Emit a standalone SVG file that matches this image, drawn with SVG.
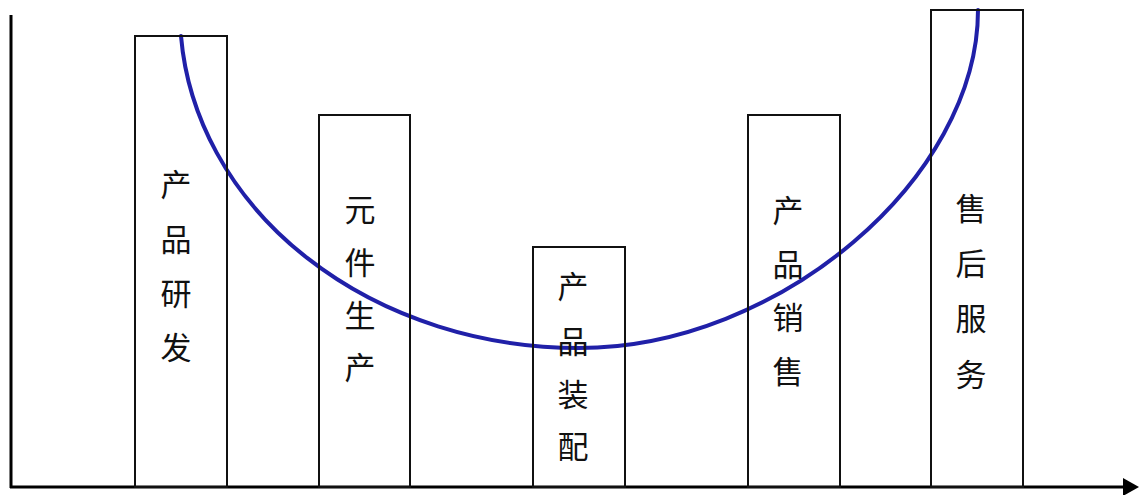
<svg xmlns="http://www.w3.org/2000/svg" width="1139" height="495" viewBox="0 0 1139 495">
<style>
.bar{fill:none;stroke:#111;stroke-width:2}
.lbl{font-family:"Noto Sans CJK SC","Noto Sans",sans-serif;font-size:31px;fill:#111;text-anchor:middle;dominant-baseline:central}
.axis{stroke:#000;stroke-width:3;fill:none}
.curve{fill:none;stroke:#2020a8;stroke-width:4;stroke-linecap:round}
</style>
<rect x="0" y="0" width="1139" height="495" fill="#fff"/>
<g id="connectors">
<line class="axis" x1="11" y1="15" x2="11" y2="488"/>
<line class="axis" x1="10" y1="487" x2="1126" y2="487"/>
<polygon points="1123,478 1139,487 1123,496" fill="#000"/>
<path class="curve" d="M181,36 A399,336 0 0,0 579,348 C779,348 978,178 978,10"/>
</g>
<g id="node1">
<rect class="bar" x="135" y="36" width="92" height="451"/>
<text class="lbl"><tspan x="176" y="182">产</tspan><tspan x="176" y="237">品</tspan><tspan x="176" y="291">研</tspan><tspan x="176" y="345">发</tspan></text>
</g>
<g id="node2">
<rect class="bar" x="319" y="115" width="91" height="372"/>
<text class="lbl"><tspan x="360" y="207">元</tspan><tspan x="360" y="260">件</tspan><tspan x="360" y="313">生</tspan><tspan x="360" y="365">产</tspan></text>
</g>
<g id="node3">
<rect class="bar" x="533" y="247" width="92" height="240"/>
<text class="lbl"><tspan x="573" y="284">产</tspan><tspan x="573" y="339">品</tspan><tspan x="573" y="392">装</tspan><tspan x="573" y="444">配</tspan></text>
</g>
<g id="node4">
<rect class="bar" x="748" y="115" width="92" height="372"/>
<text class="lbl"><tspan x="788" y="208">产</tspan><tspan x="788" y="262">品</tspan><tspan x="788" y="315">销</tspan><tspan x="788" y="369">售</tspan></text>
</g>
<g id="node5">
<rect class="bar" x="931" y="10" width="92" height="477"/>
<text class="lbl"><tspan x="971" y="206">售</tspan><tspan x="971" y="261">后</tspan><tspan x="971" y="316">服</tspan><tspan x="971" y="372">务</tspan></text>
</g>
</svg>
